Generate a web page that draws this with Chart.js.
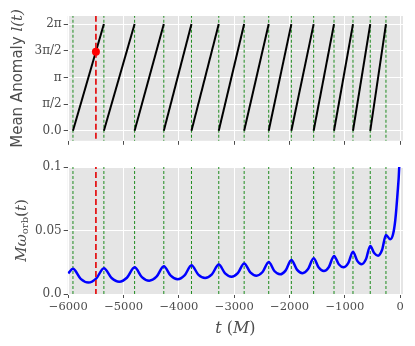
<!DOCTYPE html>
<html><head><meta charset="utf-8">
<script src="https://cdn.jsdelivr.net/npm/chart.js@4"></script>
<style>
html,body{margin:0;padding:0;background:#fff;width:415px;height:346px;overflow:hidden}
#w1{position:absolute;left:0;top:0;width:415px;height:150px}
#w2{position:absolute;left:0;top:150px;width:415px;height:196px}
</style></head><body>
<div id="w1"><canvas id="c1"></canvas></div>
<div id="w2"><canvas id="c2"></canvas></div>
<script>
// ---- data ----
const pericenterTimes = [-5915, -5356, -4801, -4273, -3773, -3280, -2821, -2377, -1968, -1565, -1197, -854, -542, -258];
const redLineTime = -5500;
const redDotAnomaly = 4.66;
const anomalyTickValues = [0, Math.PI / 2, Math.PI, 3 * Math.PI / 2, 2 * Math.PI];
const anomalyTickLabels = ['0.0', 'π/2', 'π', '3π/2', '2π'];
const freqTickValues = [0, 0.05, 0.1];
const freqTickLabels = ['0.0', '0.05', '0.1'];
const timeTicks = [-6000, -5000, -4000, -3000, -2000, -1000, 0];
const omegaTimes = [
  -6000, -5915, -5775, -5636, -5496, -5356, -5217, -5078, -4940, -4801,
  -4669, -4537, -4405, -4273, -4148, -4023, -3898, -3773, -3650, -3527,
  -3404, -3280, -3165, -3050, -2936, -2821, -2710, -2599, -2488, -2377,
  -2275, -2172, -2070, -1968, -1867, -1766, -1666, -1565, -1473, -1381,
  -1289, -1197, -1111, -1025, -940, -854, -776, -698, -620, -542,
  -471, -400, -329, -258, -181, -130, -90, -49, -18, -5];
const omegaValues = [
  0.0162, 0.0198, 0.0119, 0.0090, 0.0121, 0.0203, 0.0126, 0.0097, 0.0128, 0.0210,
  0.0133, 0.0105, 0.0136, 0.0218, 0.0144, 0.0116, 0.0146, 0.0226, 0.0153, 0.0126,
  0.0155, 0.0232, 0.0162, 0.0136, 0.0164, 0.0241, 0.0170, 0.0144, 0.0173, 0.0252,
  0.0181, 0.0155, 0.0186, 0.0268, 0.0192, 0.0164, 0.0196, 0.0281, 0.0208, 0.0181,
  0.0213, 0.0300, 0.0234, 0.0210, 0.0243, 0.0333, 0.0261, 0.0234, 0.0273, 0.0378,
  0.0323, 0.0302, 0.0346, 0.0465, 0.0431, 0.0470, 0.0580, 0.0790, 0.1000, 0.1200];

// ---- helpers ----
const TWO_PI = 2 * Math.PI;
const GREY = '#4d4d4d';
const GREEN = '#1f8c1f';
const tickFont = {family: 'DejaVu Serif', size: 11.5};

function lineDs(points, color, width, dash, extra) {
  return Object.assign({data: points, showLine: true, borderColor: color, borderWidth: width,
    borderDash: dash, pointRadius: 0, fill: false}, extra || {});
}
function vlineSets(times, lo, hi, color, width, dash) {
  return times.map(t => lineDs([{x: t, y: lo}, {x: t, y: hi}], color, width, dash));
}
function sawtoothSets() {
  const r = [];
  for (let i = 0; i < pericenterTimes.length - 1; i++) {
    r.push(lineDs([{x: pericenterTimes[i], y: 0}, {x: pericenterTimes[i + 1], y: TWO_PI}], '#000000', 2, []));
  }
  return r;
}
const omegaPts = omegaTimes.map((t, i) => ({x: t, y: omegaValues[i]}));
const fmtTime = v => (v < 0 ? '\u2212' + Math.abs(v) : String(v));

const bgPlugin = {
  id: 'bg',
  beforeDraw(chart) {
    const a = chart.chartArea, ctx = chart.ctx;
    ctx.save(); ctx.fillStyle = '#E5E5E5';
    ctx.fillRect(a.left, a.top, a.right - a.left, a.bottom - a.top);
    ctx.restore();
  }
};
const topTitlePlugin = {
  id: 'topTitles',
  afterDraw(chart) {
    const a = chart.chartArea, ctx = chart.ctx;
    ctx.save();
    ctx.fillStyle = GREY;
    ctx.translate(18, (a.top + a.bottom) / 2);
    ctx.rotate(-Math.PI / 2);
    ctx.textBaseline = 'middle'; ctx.textAlign = 'left';
    const p1 = 'Mean Anomaly ', p2 = 'l(t)';
    ctx.font = '15px "DejaVu Sans"'; const w1 = ctx.measureText(p1).width;
    ctx.font = 'italic 15px "DejaVu Serif"'; const w2 = ctx.measureText(p2).width;
    let x = -(w1 + w2) / 2;
    ctx.font = '15px "DejaVu Sans"'; ctx.fillText(p1, x, 0); x += w1;
    ctx.font = 'italic 15px "DejaVu Serif"'; ctx.fillText(p2, x, 0);
    ctx.restore();
  }
};
const bottomTitlePlugin = {
  id: 'bottomTitles',
  afterDraw(chart) {
    const a = chart.chartArea, ctx = chart.ctx;
    ctx.save();
    ctx.fillStyle = GREY;
    ctx.translate(22, (a.top + a.bottom) / 2);
    ctx.rotate(-Math.PI / 2);
    ctx.textBaseline = 'middle'; ctx.textAlign = 'left';
    const parts = [
      {t: 'Mω', f: 'italic 15px "DejaVu Serif"', dy: 0},
      {t: 'orb', f: '10px "DejaVu Serif"', dy: 3},
      {t: '(', f: '15px "DejaVu Serif"', dy: 0},
      {t: 't', f: 'italic 15px "DejaVu Serif"', dy: 0},
      {t: ')', f: '15px "DejaVu Serif"', dy: 0}];
    let tot = 0;
    parts.forEach(p => { ctx.font = p.f; p.w = ctx.measureText(p.t).width; tot += p.w; });
    let x = -tot / 2;
    parts.forEach(p => { ctx.font = p.f; ctx.fillText(p.t, x, p.dy); x += p.w; });
    ctx.restore();

    ctx.save();
    ctx.fillStyle = GREY;
    ctx.textBaseline = 'middle'; ctx.textAlign = 'left';
    const cx = (a.left + a.right) / 2;
    const f1 = 'italic 16px "DejaVu Serif"', f2 = '16px "DejaVu Serif"';
    const segs = [['t', f1], [' (', f2], ['M', f1], [')', f2]];
    let tw = 0;
    segs.forEach(s => { ctx.font = s[1]; s.push(ctx.measureText(s[0]).width); tw += s[2]; });
    let xx = cx - tw / 2;
    segs.forEach(s => { ctx.font = s[1]; ctx.fillText(s[0], xx, 179); xx += s[2]; });
    ctx.restore();
  }
};

function xScale(showLabels, h) {
  return {
    type: 'linear', min: -6010, max: 50,
    afterBuildTicks(s) { s.ticks = timeTicks.map(v => ({value: v})); },
    afterFit(s) { s.height = h; },
    grid: {color: '#FFFFFF', lineWidth: 1, tickColor: GREY, tickLength: 4, drawTicks: true},
    border: {display: false},
    ticks: {display: true, color: GREY, font: tickFont, padding: 2, maxRotation: 0, autoSkip: false,
      callback: v => (showLabels ? fmtTime(v) : '')}
  };
}
function yScale(min, max, vals, labels) {
  return {
    type: 'linear', min: min, max: max,
    afterBuildTicks(s) { s.ticks = vals.map(v => ({value: v})); },
    afterFit(s) { s.width = 67.7; },
    grid: {color: '#FFFFFF', lineWidth: 1, tickColor: GREY, tickLength: 4},
    border: {display: false},
    ticks: {color: GREY, font: {family: 'DejaVu Serif', size: 12}, padding: 2, autoSkip: false,
      callback: (v) => { const i = vals.findIndex(u => Math.abs(u - v) < 1e-9); return i >= 0 ? labels[i] : ''; }}
  };
}
function baseOptions(padTop) {
  return {
    responsive: true, maintainAspectRatio: false, animation: false, devicePixelRatio: 1,
    plugins: {legend: {display: false}, tooltip: {enabled: false}},
    elements: {point: {radius: 0}},
    layout: {padding: {top: padTop, right: 12, left: 0, bottom: 0}}
  };
}

const topOptions = baseOptions(16);
topOptions.scales = {x: xScale(false, 7), y: yScale(-0.59, 6.76, anomalyTickValues, anomalyTickLabels)};
new Chart(document.getElementById('c1'), {
  type: 'scatter',
  data: {datasets: [
    {data: [{x: redLineTime, y: redDotAnomaly}], pointRadius: 4, pointBackgroundColor: '#FF0000', pointBorderWidth: 0, showLine: false}
  ].concat(
    vlineSets([redLineTime], -1, 7, '#E41A1C', 1.8, [6, 3]),
    sawtoothSets(),
    vlineSets(pericenterTimes, -1, 7, GREEN, 1, [3, 2])
  )},
  options: topOptions,
  plugins: [bgPlugin, topTitlePlugin]
});

const bottomOptions = baseOptions(17);
bottomOptions.scales = {x: xScale(true, 52), y: yScale(0, 0.1, freqTickValues, freqTickLabels)};
new Chart(document.getElementById('c2'), {
  type: 'scatter',
  data: {datasets: [].concat(
    vlineSets([redLineTime], -1, 1, '#E41A1C', 1.8, [6, 3]),
    [lineDs(omegaPts, '#0000FF', 2.5, [], {cubicInterpolationMode: 'monotone'})],
    vlineSets(pericenterTimes, -1, 1, GREEN, 1, [3, 2])
  )},
  options: bottomOptions,
  plugins: [bgPlugin, bottomTitlePlugin]
});
</script>
</body></html>
